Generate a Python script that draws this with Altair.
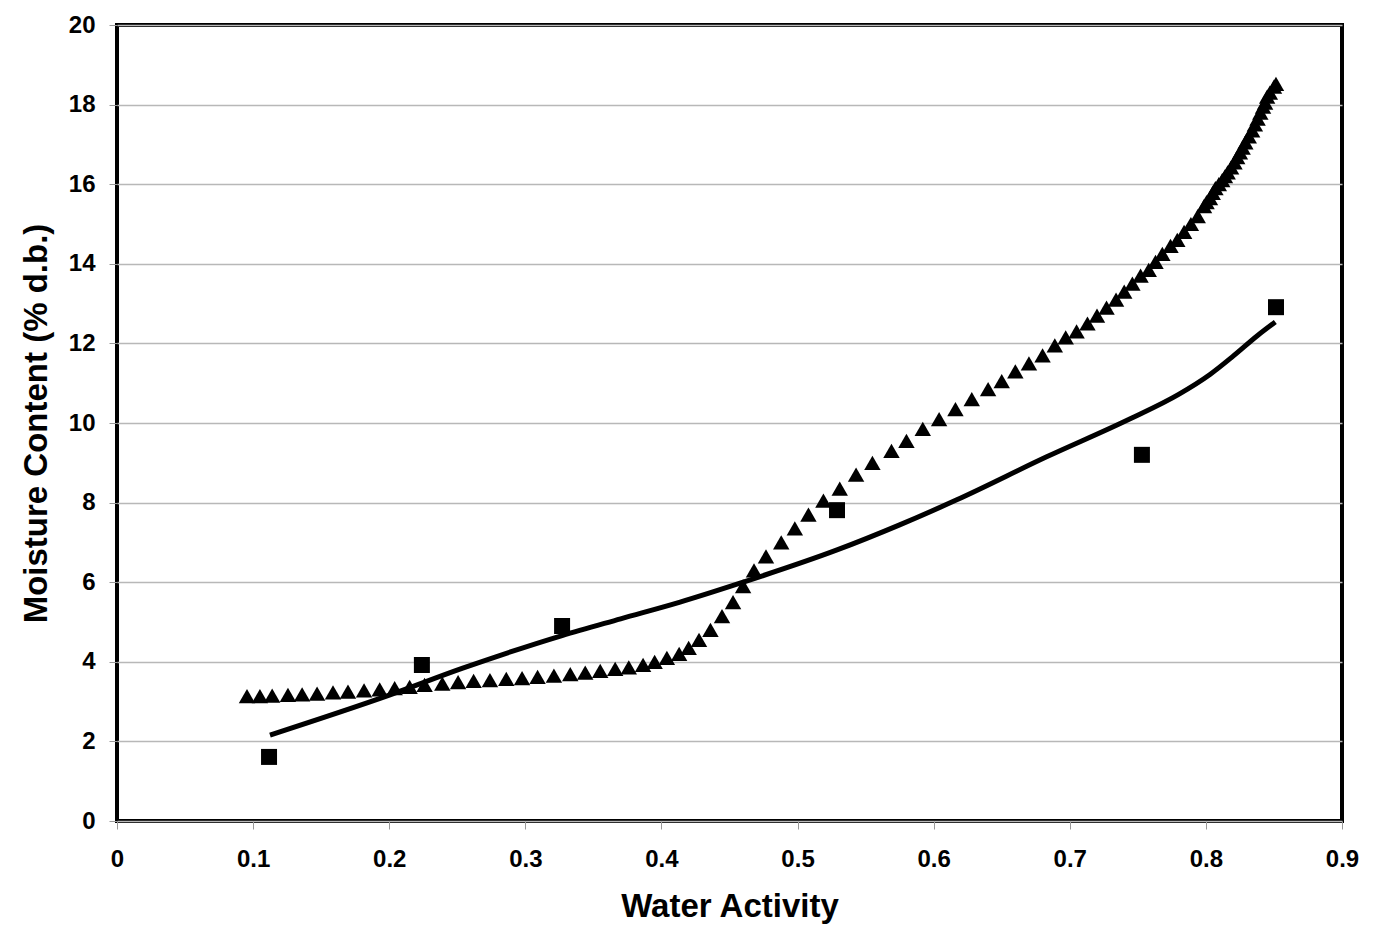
import altair as alt
import pandas as pd

# Triangles (predicted series)
aw_tri = [0.0955, 0.105, 0.114, 0.1256, 0.136, 0.147, 0.1587, 0.1697, 0.1815, 0.193,
          0.204, 0.215, 0.226, 0.239, 0.2506, 0.262, 0.274, 0.286, 0.2976, 0.309,
          0.321, 0.333, 0.344, 0.355, 0.366, 0.376, 0.3865, 0.395, 0.404, 0.413,
          0.420, 0.4276, 0.436, 0.4445, 0.4526, 0.460, 0.468, 0.4768, 0.488, 0.498,
          0.508, 0.519, 0.531, 0.543, 0.555, 0.569, 0.580, 0.592, 0.604, 0.616,
          0.628, 0.640, 0.650, 0.660, 0.670, 0.680, 0.689, 0.697, 0.705, 0.713,
          0.720, 0.727, 0.734, 0.740, 0.746, 0.752, 0.758, 0.763, 0.768, 0.774,
          0.779, 0.784, 0.789, 0.794, 0.7986, 0.8005, 0.803, 0.805, 0.807, 0.8095,
          0.812, 0.814, 0.816, 0.8185, 0.821, 0.823, 0.825, 0.827, 0.829, 0.8315,
          0.834, 0.836, 0.838, 0.840, 0.842, 0.8435, 0.845, 0.847, 0.850, 0.8515]
mc_tri = [3.14, 3.14, 3.15, 3.17, 3.18, 3.20, 3.23, 3.25, 3.28, 3.31,
          3.34, 3.37, 3.42, 3.45, 3.49, 3.52, 3.54, 3.57, 3.59, 3.62,
          3.65, 3.69, 3.73, 3.77, 3.82, 3.86, 3.92, 4.00, 4.10, 4.20,
          4.35, 4.55, 4.80, 5.15, 5.50, 5.90, 6.30, 6.65, 7.00, 7.35,
          7.70, 8.05, 8.35, 8.70, 9.00, 9.30, 9.55, 9.85, 10.10, 10.35,
          10.60, 10.85, 11.05, 11.30, 11.50, 11.70, 11.95, 12.15, 12.30, 12.50,
          12.70, 12.90, 13.10, 13.30, 13.50, 13.70, 13.85, 14.05, 14.25, 14.45,
          14.60, 14.80, 15.00, 15.20, 15.45, 15.55, 15.65, 15.78, 15.90, 16.00,
          16.10, 16.20, 16.30, 16.42, 16.55, 16.68, 16.80, 16.92, 17.05, 17.20,
          17.35, 17.50, 17.65, 17.80, 17.95, 18.05, 18.20, 18.30, 18.45, 18.52]

# Squares (experimental)
aw_exp = [0.1117, 0.224, 0.327, 0.529, 0.753, 0.8515]
mc_exp = [1.61, 3.92, 4.90, 7.81, 9.20, 12.91]

# Fitted curve
aw_fit = [0.1124, 0.2006, 0.254, 0.327, 0.37, 0.4137, 0.46, 0.529, 0.575, 0.617,
          0.683, 0.744, 0.78, 0.803, 0.82, 0.838, 0.851]
mc_fit = [2.16, 3.17, 3.84, 4.66, 5.08, 5.50, 6.00, 6.81, 7.44, 8.07,
          9.15, 10.10, 10.72, 11.22, 11.68, 12.20, 12.54]

tri = pd.DataFrame({"aw": aw_tri, "mc": mc_tri})
exp = pd.DataFrame({"aw": aw_exp, "mc": mc_exp})
fit = pd.DataFrame({"aw": aw_fit, "mc": mc_fit})

FONT = "Liberation Sans"

xs = alt.Scale(domain=[0, 0.9], nice=False, zero=False)
ys = alt.Scale(domain=[0, 20], nice=False)

xaxis = alt.Axis(
    title="Water Activity", values=[0, 0.1, 0.2, 0.3, 0.4, 0.5, 0.6, 0.7, 0.8, 0.9],
    format="~g", grid=False, domain=False, ticks=True, tickSize=8, tickColor="#999999",
    tickWidth=1, labelFont=FONT, labelFontSize=24, labelFontWeight="bold",
    labelColor="black", labelPadding=18, labelFlush=False, titleFont=FONT, titleFontSize=33,
    titleFontWeight="bold", titleColor="black", titleY=95, titleBaseline="alphabetic",
)
yaxis = alt.Axis(
    title="Moisture Content (% d.b.)", values=list(range(0, 21, 2)),
    grid=True, gridColor="#b8b8b8", gridWidth=1.5, domain=False, ticks=True,
    tickSize=8, tickColor="#999999", tickWidth=1, labelFont=FONT, labelFontSize=24,
    labelFontWeight="bold", labelColor="black", labelPadding=14, labelFlush=False,
    titleFont=FONT, titleFontSize=33, titleFontWeight="bold", titleColor="black",
    titleX=-71, titleY=398, titleAngle=-90, titleBaseline="alphabetic", titleAlign="center",
)

line = alt.Chart(fit).mark_line(color="black", strokeWidth=5, interpolate="monotone").encode(
    x=alt.X("aw:Q", scale=xs, axis=xaxis),
    y=alt.Y("mc:Q", scale=ys, axis=yaxis),
)
tri_pts = alt.Chart(tri).mark_point(shape="triangle-up", filled=True, color="black",
                                    size=270, opacity=1).encode(
    x=alt.X("aw:Q", scale=xs), y=alt.Y("mc:Q", scale=ys)
)
sq_pts = alt.Chart(exp).mark_point(shape="square", filled=True, color="black",
                                   size=256, opacity=1).encode(
    x=alt.X("aw:Q", scale=xs), y=alt.Y("mc:Q", scale=ys)
)

chart = alt.layer(tri_pts, line, sq_pts).properties(
    width=1225, height=796,
    autosize=alt.AutoSizeParams(type="none"),
    padding={"left": 109, "top": 17, "right": 40, "bottom": 112},
    background="white",
).configure_view(stroke="black", strokeWidth=4)

chart.save("out.html", embed_options={"renderer": "svg", "actions": False})
